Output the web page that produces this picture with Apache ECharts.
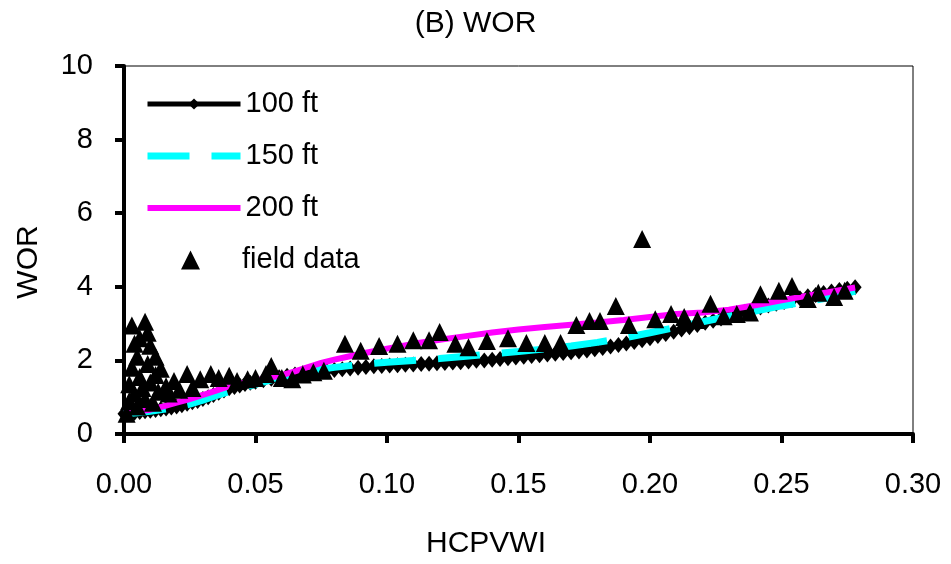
<!DOCTYPE html>
<html>
<head>
<meta charset="utf-8">
<script src="https://cdn.jsdelivr.net/npm/echarts@6/dist/echarts.min.js"></script>
<style>html,body{margin:0;padding:0;background:#fff;}#c{width:951px;height:564px;}</style>
</head>
<body>
<div id="c"></div>
<script>
const titleText = '(B) WOR';
const xName = 'HCPVWI';
const yName = 'WOR';
const xTicks = { min: 0, max: 0.3, step: 0.05 };
const yTicks = { min: 0, max: 10, step: 2 };
const seriesNames = ['100 ft', '150 ft', '200 ft', 'field data'];

const ft100 = [[0.000,0.55],[0.002,0.57],[0.004,0.58],[0.006,0.60],[0.008,0.62],[0.010,0.63],[0.012,0.65],[0.014,0.67],[0.016,0.69],[0.018,0.72],[0.020,0.75],[0.022,0.78],[0.024,0.82],[0.026,0.86],[0.028,0.90],[0.030,0.95],[0.032,1.00],[0.034,1.06],[0.036,1.12],[0.038,1.18],[0.040,1.24],[0.042,1.28],[0.044,1.32],[0.046,1.36],[0.048,1.39],[0.050,1.42],[0.053,1.46],[0.056,1.50],[0.059,1.54],[0.062,1.58],[0.065,1.62],[0.068,1.65],[0.071,1.68],[0.074,1.70],[0.077,1.72],[0.080,1.74],[0.083,1.76],[0.086,1.78],[0.089,1.80],[0.092,1.82],[0.095,1.84],[0.098,1.85],[0.101,1.86],[0.104,1.87],[0.107,1.88],[0.110,1.89],[0.113,1.90],[0.116,1.91],[0.119,1.92],[0.122,1.93],[0.125,1.94],[0.128,1.95],[0.131,1.97],[0.134,1.99],[0.137,2.00],[0.140,2.02],[0.143,2.04],[0.146,2.06],[0.149,2.08],[0.152,2.10],[0.155,2.12],[0.158,2.14],[0.161,2.16],[0.164,2.18],[0.167,2.20],[0.170,2.22],[0.173,2.24],[0.176,2.27],[0.179,2.30],[0.182,2.34],[0.185,2.38],[0.188,2.42],[0.191,2.46],[0.194,2.50],[0.197,2.55],[0.200,2.60],[0.203,2.66],[0.206,2.72],[0.209,2.78],[0.212,2.84],[0.215,2.90],[0.218,2.96],[0.221,3.02],[0.224,3.08],[0.227,3.14],[0.230,3.20],[0.233,3.26],[0.236,3.32],[0.239,3.38],[0.242,3.44],[0.245,3.49],[0.248,3.54],[0.251,3.59],[0.254,3.64],[0.257,3.69],[0.260,3.74],[0.263,3.78],[0.266,3.83],[0.269,3.87],[0.272,3.91],[0.275,3.95],[0.278,3.99]];

const ft150 = [[0.000,0.55],[0.005,0.58],[0.010,0.62],[0.015,0.67],[0.020,0.73],[0.025,0.81],[0.030,0.92],[0.035,1.04],[0.040,1.15],[0.045,1.25],[0.050,1.35],[0.055,1.45],[0.060,1.55],[0.065,1.63],[0.070,1.70],[0.075,1.76],[0.080,1.81],[0.090,1.89],[0.100,1.95],[0.110,2.00],[0.120,2.05],[0.130,2.11],[0.140,2.18],[0.150,2.24],[0.160,2.31],[0.170,2.39],[0.180,2.49],[0.190,2.61],[0.200,2.75],[0.210,2.90],[0.220,3.05],[0.230,3.20],[0.240,3.34],[0.250,3.48],[0.260,3.60],[0.270,3.73],[0.278,3.88]];

const ft200 = [[0.000,0.60],[0.005,0.62],[0.010,0.66],[0.015,0.75],[0.020,0.85],[0.025,0.95],[0.030,1.06],[0.035,1.18],[0.040,1.30],[0.045,1.38],[0.050,1.45],[0.055,1.52],[0.060,1.60],[0.065,1.70],[0.070,1.82],[0.075,1.93],[0.080,2.02],[0.085,2.10],[0.090,2.18],[0.095,2.25],[0.100,2.32],[0.110,2.45],[0.120,2.56],[0.130,2.66],[0.140,2.76],[0.150,2.84],[0.160,2.91],[0.170,2.97],[0.180,3.03],[0.190,3.10],[0.200,3.18],[0.210,3.26],[0.220,3.30],[0.230,3.38],[0.240,3.50],[0.250,3.63],[0.260,3.76],[0.270,3.88],[0.278,3.98]];

const fieldData = [[0.001,0.55],[0.002,0.9],[0.002,1.35],[0.003,2.95],[0.003,1.8],[0.004,2.45],[0.004,1.1],[0.005,2.1],[0.005,0.75],[0.006,1.55],[0.006,2.6],[0.007,1.25],[0.008,3.05],[0.008,0.95],[0.009,2.75],[0.009,1.9],[0.010,2.4],[0.010,1.4],[0.011,0.85],[0.012,2.1],[0.012,1.6],[0.013,1.15],[0.014,1.77],[0.016,1.3],[0.017,1.1],[0.019,1.44],[0.021,1.2],[0.024,1.63],[0.026,1.25],[0.029,1.49],[0.033,1.63],[0.036,1.52],[0.040,1.58],[0.043,1.44],[0.047,1.49],[0.050,1.52],[0.054,1.63],[0.056,1.85],[0.060,1.52],[0.064,1.49],[0.068,1.62],[0.072,1.68],[0.076,1.72],[0.084,2.45],[0.090,2.26],[0.097,2.39],[0.104,2.45],[0.110,2.55],[0.116,2.55],[0.120,2.77],[0.126,2.45],[0.131,2.36],[0.138,2.53],[0.146,2.60],[0.153,2.47],[0.160,2.47],[0.166,2.47],[0.172,2.96],[0.177,3.07],[0.181,3.07],[0.187,3.48],[0.192,2.96],[0.197,5.30],[0.202,3.12],[0.208,3.26],[0.213,3.18],[0.218,3.10],[0.223,3.54],[0.228,3.20],[0.233,3.26],[0.238,3.30],[0.242,3.80],[0.249,3.89],[0.254,4.02],[0.260,3.67],[0.264,3.84],[0.270,3.72],[0.274,3.89]];

const FONT = '"Liberation Sans", Arial, sans-serif';
const FS = 29;
const W100 = 5, W150 = 7, W200 = 6;
const chart = echarts.init(document.getElementById('c'), null, { renderer: 'canvas' });
chart.setOption({
  animation: false,
  backgroundColor: '#fff',
  title: {
    text: titleText, left: 'center', top: 4,
    textStyle: { fontFamily: FONT, fontSize: 30, fontWeight: 'normal', color: '#000' }
  },
  legend: [{
    data: [
      { name: seriesNames[0], lineStyle: { width: W100 } },
      { name: seriesNames[1], lineStyle: { width: W150 }, itemStyle: { opacity: 0 } },
      { name: seriesNames[2], lineStyle: { width: W200 }, itemStyle: { opacity: 0 } }
    ],
    orient: 'vertical', left: 144, top: 89, padding: 0,
    itemWidth: 93, itemHeight: 14, itemGap: 22,
    textStyle: { fontFamily: FONT, fontSize: FS, color: '#000', lineHeight: 30 }
  }, {
    data: [seriesNames[3]], orient: 'vertical', left: 181, top: 245, padding: 0,
    itemWidth: 19, itemHeight: 19, itemGap: 22,
    textStyle: { fontFamily: FONT, fontSize: FS, color: '#000', lineHeight: 30, padding: [0, 0, 0, 37] }
  }],
  grid: { left: 124, right: 38, top: 66, bottom: 130, show: true, borderColor: '#000', borderWidth: 1 },
  xAxis: {
    type: 'value', min: xTicks.min, max: xTicks.max, interval: xTicks.step,
    name: xName, nameLocation: 'middle', nameGap: 95,
    nameTextStyle: { fontFamily: FONT, fontSize: 30, color: '#000', padding: [0, 65, 0, 0] },
    axisLine: { show: true, onZero: false, lineStyle: { color: '#000', width: 4 } },
    axisTick: { show: true, inside: false, length: 9, lineStyle: { color: '#000', width: 4 } },
    axisLabel: { margin: 36, fontFamily: FONT, fontSize: FS, color: '#000', formatter: v => v.toFixed(2) },
    splitLine: { show: false }
  },
  yAxis: {
    type: 'value', min: yTicks.min, max: yTicks.max, interval: yTicks.step,
    name: yName, nameLocation: 'middle', nameGap: 80, nameRotate: 90,
    nameTextStyle: { fontFamily: FONT, fontSize: 30, color: '#000', padding: [0, 24, 0, 0] },
    axisLine: { show: true, onZero: false, lineStyle: { color: '#000', width: 4 } },
    axisTick: { show: true, inside: false, length: 9, lineStyle: { color: '#000', width: 4 } },
    axisLabel: { margin: 31, fontFamily: FONT, fontSize: FS, color: '#000' },
    splitLine: { show: false }
  },
  series: [{
    name: seriesNames[0], type: 'line', data: ft100,
    symbol: 'diamond', symbolSize: [13, 16],
    lineStyle: { color: '#000', width: W100 }, itemStyle: { color: '#000' }, z: 2
  }, {
    name: seriesNames[1], type: 'line', data: ft150, symbol: 'none', showSymbol: false,
    lineStyle: { color: '#00ffff', width: W150, type: [42, 22] }, itemStyle: { color: '#00ffff' }, z: 3
  }, {
    name: seriesNames[2], type: 'line', data: ft200, symbol: 'none', showSymbol: false,
    lineStyle: { color: '#ff00ff', width: W200 }, itemStyle: { color: '#ff00ff' }, z: 4
  }, {
    name: seriesNames[3], type: 'scatter', data: fieldData,
    symbol: 'triangle', symbolSize: 18, itemStyle: { color: '#000', opacity: 1 }, z: 5
  }]
});
</script>
</body>
</html>
